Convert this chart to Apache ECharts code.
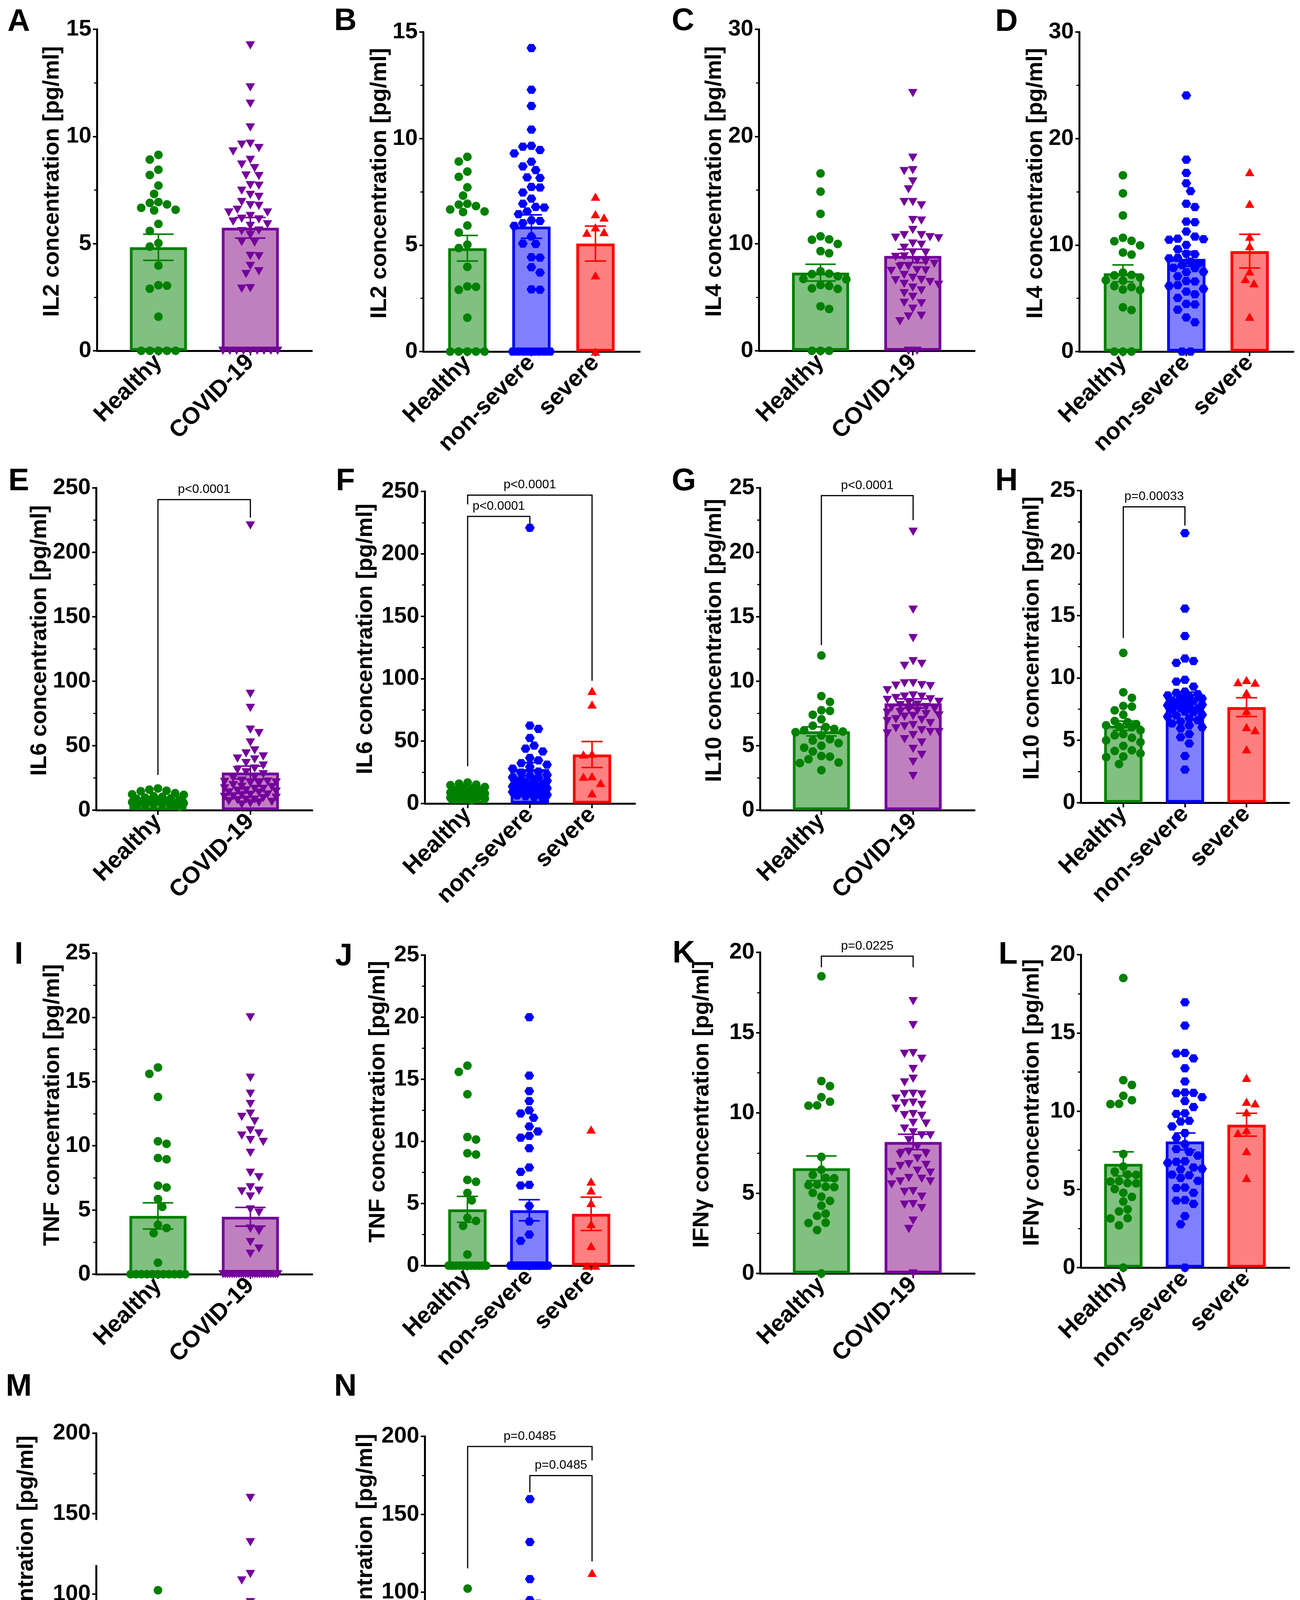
<!DOCTYPE html>
<html>
<head>
<meta charset="utf-8">
<title>Cytokine concentrations</title>
<script src="https://cdn.jsdelivr.net/npm/echarts@6/dist/echarts.min.js"></script>
<style>
  html, body {margin: 0; padding: 0; background: #fff;}
  #chart {width: 3327px; height: 4755px;}
</style>
</head>
<body>
<div id="chart"></div>
<script>
// categories
const twoCats = ['Healthy', 'COVID-19'];
const threeCats = ['Healthy', 'non-severe', 'severe'];

// values, per cytokine and group
const il2Healthy = [9.14, 8.92, 8.45, 8.2, 7.71, 7.32, 6.94, 6.9, 6.83, 6.67, 6.58, 6.55, 5.92, 5.59, 5.02, 4.86, 3.98, 3.06, 3.04, 2.9, 1.59, 0, 0, 0, 0, 0];
const il2NonSevere = [14.25, 12.29, 11.53, 10.42, 9.66, 9.62, 9.46, 9.3, 8.91, 8.69, 8.52, 8.18, 8.15, 7.73, 7.7, 7.47, 7.18, 6.94, 6.79, 6.76, 6.58, 6.45, 6.16, 6.13, 6.03, 5.9, 5.4, 5.07, 5.05, 4.43, 4.41, 3.96, 3.71, 2.92, 2.9, 0, 0, 0, 0, 0, 0, 0, 0];
const il2Severe = [7.27, 6.45, 6.29, 5.83, 5.61, 5.58, 3.58, 0];

const il4Healthy = [16.55, 14.85, 12.78, 10.68, 10.4, 10.36, 9.97, 9.3, 9.1, 7.42, 7.2, 7.16, 6.95, 6.7, 6.66, 6.14, 6.05, 5.82, 5.78, 4.15, 3.9, 0, 0, 0];
const il4NonSevere = [24.05, 18.02, 16.77, 15.8, 15.06, 13.88, 13.57, 12.2, 12.15, 11.27, 10.79, 10.6, 10.55, 10.5, 10.01, 9.61, 9.18, 9.14, 8.8, 8.76, 8.44, 8.3, 8.12, 7.86, 7.83, 7.49, 7.45, 7.07, 6.62, 6.58, 6.24, 6.16, 5.9, 5.63, 5.37, 5.03, 4.47, 4.43, 3.93, 3.2, 2.75, 0, 0];
const il4Severe = [16.85, 13.88, 10.79, 9.9, 7.52, 6.81, 6.42, 3.27];

const il6Healthy = [16.8, 15.9, 15.1, 14.7, 13.2, 12.3, 11.9, 10.8, 10.3, 9.7, 9.2, 8.8, 8.1, 7.9, 7.3, 6.6, 6.4, 6.2, 5.6, 5.4, 4.7, 4.5, 3.8, 3.7, 3.2, 2.6];
const il6NonSevere = [220.8, 62.4, 59.8, 52.5, 46.4, 44.0, 41.7, 36.5, 34.6, 32.3, 31.1, 29.4, 27.9, 25.6, 24.8, 22.9, 22.1, 21.0, 20.6, 19.4, 18.2, 17.9, 16.9, 16.5, 15.3, 15.0, 14.4, 13.7, 13.5, 12.2, 12.0, 11.6, 10.7, 10.2, 9.6, 9.3, 8.1, 7.7, 7.0, 6.4, 5.9, 5.3, 4.4];
const il6Severe = [90.2, 79.3, 40.0, 39.3, 21.9, 21.5, 16.5, 8.2];

const il10Healthy = [12.0, 8.85, 8.4, 7.75, 7.7, 7.4, 7.05, 6.55, 6.45, 6.3, 6.2, 6.1, 6.05, 5.8, 5.5, 5.4, 5.2, 5.0, 4.85, 4.55, 4.2, 4.15, 3.95, 3.7, 3.65, 3.1];
const il10NonSevere = [21.6, 15.55, 13.35, 11.55, 11.35, 11.2, 9.85, 9.7, 9.3, 8.9, 8.8, 8.7, 8.6, 8.55, 8.4, 8.35, 8.2, 8.15, 8.0, 7.95, 7.85, 7.8, 7.7, 7.6, 7.55, 7.45, 7.3, 7.25, 7.05, 7.0, 6.9, 6.75, 6.6, 6.5, 6.35, 6.2, 6.05, 5.95, 5.5, 5.25, 4.75, 3.75, 2.65];
const il10Severe = [9.83, 9.66, 9.62, 8.81, 7.35, 6.06, 5.82, 4.29];

const tnfHealthy = [16.1, 15.6, 13.8, 10.35, 10.15, 9.05, 8.95, 6.9, 6.75, 5.85, 5.25, 3.85, 3.6, 3.2, 0.9, 0, 0, 0, 0, 0, 0, 0, 0, 0, 0, 0];
const tnfNonSevere = [20.0, 15.3, 14.05, 13.25, 12.5, 12.25, 11.9, 11.2, 10.8, 10.45, 10.3, 9.45, 7.9, 7.55, 6.5, 6.45, 4.8, 3.55, 2.5, 2.0, 0, 0, 0, 0, 0, 0, 0, 0, 0, 0, 0, 0, 0, 0, 0, 0, 0, 0, 0, 0, 0, 0, 0];
const tnfSevere = [10.96, 6.77, 6.05, 5.04, 3.35, 1.59, 0, 0];

const ifnHealthy = [18.51, 11.98, 11.67, 10.98, 10.7, 10.47, 10.45, 7.26, 6.46, 6.14, 5.95, 5.93, 5.53, 5.5, 5.4, 5.38, 5.02, 4.78, 4.52, 4.22, 3.72, 3.59, 3.16, 3.14, 2.7, 0];
const ifnNonSevere = [16.96, 15.47, 13.72, 13.68, 13.37, 12.74, 11.9, 11.19, 11.17, 11.15, 10.89, 10.64, 10.26, 9.86, 9.82, 9.38, 9.34, 9.02, 8.6, 8.3, 7.89, 7.58, 7.4, 7.16, 6.8, 6.76, 6.69, 6.4, 6.32, 6.28, 5.94, 5.9, 5.73, 5.54, 5.12, 5.08, 4.78, 4.32, 4.28, 4.07, 3.29, 2.77, 0];
const ifnSevere = [12.13, 10.6, 10.5, 9.93, 8.79, 8.6, 7.45, 5.73];

const il17Healthy = [102.3, 82.6, 77.5, 71.2, 67.8, 60.4, 60.3, 54.9, 46.1, 42.7, 40.6, 38.9, 35.8, 33.5, 33.2, 30.4, 29.3, 28.8, 28.1, 26.5, 16.7, 0, 0, 0, 0, 0];
const il17NonSevere = [159.7, 132.2, 108.4, 94.9, 92.6, 92.4, 89.4, 72.5, 62.4, 62.2, 56.9, 56.7, 44.8, 44.6, 44.4, 42.7, 42.5, 41.1, 37.5, 33.1, 32.9, 31.4, 28.9, 21.8, 21.7, 21.5, 21.4, 20.3, 20.1, 17.5, 13.0, 9.4, 0, 0, 0, 0, 0, 0, 0, 0, 0, 0, 0];
const il17Severe = [112.4, 88.8, 69.0, 60.0, 56.8, 54.8, 52.7, 25.3];

// bar heights (mean) and error bars (SEM), per panel
const meansA = [4.83, 5.74], semsA = [0.61, 0.48];
const meansB = [4.85, 5.87, 5.07], semsB = [0.60, 0.55, 0.82];
const meansC = [7.29, 8.85], semsC = [0.78, 0.63];
const meansD = [7.34, 8.70, 9.43], semsD = [0.79, 0.70, 1.58];
const meansE = [8.7, 29.2], semsE = [0.8, 5.0];
const meansF = [8.7, 27.5, 39.3], semsF = [0.8, 5.3, 10.4];
const meansG = [6.11, 8.28], semsG = [0.35, 0.36];
const meansH = [6.17, 8.41, 7.66], semsH = [0.37, 0.45, 0.75];
const meansI = [4.54, 4.47], semsI = [1.02, 0.73];
const meansJ = [4.53, 4.46, 4.17], semsJ = [1.04, 0.85, 1.34];
const meansK = [6.55, 8.19], semsK = [0.77, 0.48];
const meansL = [6.63, 8.06, 9.13], semsL = [0.77, 0.54, 0.73];
const meansM = [38.5, 42.1], semsM = [5.4, 5.3];
const meansN = [39.1, 38.5, 63.5], semsN = [5.4, 5.3, 9.4];

// significance brackets: [from group, to group, bar level, left leg end, right leg end]
const bracketsE = [[0, 1, 240.9, 27.3, 227]], pLabelsE = ['p<0.0001'];
const bracketsF = [[0, 2, 247, 239.6, 98.3], [0, 1, 230, 29.9, 223]], pLabelsF = ['p<0.0001', 'p<0.0001'];
const bracketsG = [[0, 1, 24.4, 12.8, 22.5]], pLabelsG = ['p<0.0001'];
const bracketsH = [[0, 1, 23.7, 13.2, 22.2]], pLabelsH = ['p=0.00033'];
const bracketsK = [[0, 1, 19.76, 19.07, 19.07]], pLabelsK = ['p=0.0225'];
const bracketsN = [[0, 2, 193.5, 115.3, 184.6], [1, 2, 174.8, 164.1, 119.8]], pLabelsN = ['p=0.0485', 'p=0.0485'];

const FONT = "'Liberation Sans', Arial, Helvetica, sans-serif";
const HEX = 'path://M0,5L2.6,0L7.4,0L10,5L7.4,10L2.6,10Z';
const STYLES = {
    healthy:   {dark: '#008000', fill: '#80c080', symbol: 'circle',   size: 22,       rotate: 0},
    covid:     {dark: '#73009a', fill: '#c080c0', symbol: 'triangle', size: [24, 21], rotate: 180},
    nonSevere: {dark: '#0000ff', fill: '#8080ff', symbol: HEX,        size: [25, 21], rotate: 0},
    severe:    {dark: '#ff0000', fill: '#ff8080', symbol: 'triangle', size: [24, 21], rotate: 0}
};
const TWO = ['healthy', 'covid'];
const THREE = ['healthy', 'nonSevere', 'severe'];

const panels = [
    {letter: 'A', at: [48, 57],    box: [248, 75, 798, 898],     name: 'IL2',   max: 15,  step: 5,  gap: 85,  groups: [il2Healthy, il2NonSevere.concat(il2Severe)], means: meansA, sems: semsA},
    {letter: 'B', at: [884, 55],   box: [1083, 82, 1637, 900],   name: 'IL2',   max: 15,  step: 5,  gap: 77,  groups: [il2Healthy, il2NonSevere, il2Severe], means: meansB, sems: semsB},
    {letter: 'C', at: [1748, 55],  box: [1942, 75, 2494, 898],   name: 'IL4',   max: 30,  step: 10, gap: 84,  groups: [il4Healthy, il4NonSevere.concat(il4Severe)], means: meansC, sems: semsC},
    {letter: 'D', at: [2576, 57],  box: [2762, 82, 3310, 900],   name: 'IL4',   max: 30,  step: 10, gap: 80,  groups: [il4Healthy, il4NonSevere, il4Severe], means: meansD, sems: semsD},
    {letter: 'E', at: [48, 1233],  box: [246, 1249, 799, 2074],  name: 'IL6',   max: 250, step: 50, gap: 112, groups: [il6Healthy, il6NonSevere.concat(il6Severe)], means: meansE, sems: semsE, brackets: bracketsE, pLabels: pLabelsE},
    {letter: 'F', at: [884, 1233], box: [1087, 1258, 1625, 2057], name: 'IL6',  max: 250, step: 50, gap: 122, groups: [il6Healthy, il6NonSevere, il6Severe], means: meansF, sems: semsF, brackets: bracketsF, pLabels: pLabelsF},
    {letter: 'G', at: [1750, 1233], box: [1945, 1249, 2494, 2074], name: 'IL10', max: 25, step: 5,  gap: 87,  groups: [il10Healthy, il10NonSevere.concat(il10Severe)], means: meansG, sems: semsG, brackets: bracketsG, pLabels: pLabelsG},
    {letter: 'H', at: [2576, 1233], box: [2766, 1256, 3299, 2055], name: 'IL10', max: 25, step: 5,  gap: 95,  groups: [il10Healthy, il10NonSevere, il10Severe], means: meansH, sems: semsH, brackets: bracketsH, pLabels: pLabelsH},
    {letter: 'I', at: [48, 2445],  box: [246, 2440, 799, 3262],  name: 'TNF',   max: 25,  step: 5,  gap: 80,  groups: [tnfHealthy, tnfNonSevere.concat(tnfSevere)], means: meansI, sems: semsI},
    {letter: 'J', at: [880, 2449], box: [1087, 2445, 1622, 3240], name: 'TNF',  max: 25,  step: 5,  gap: 90,  groups: [tnfHealthy, tnfNonSevere, tnfSevere], means: meansJ, sems: semsJ},
    {letter: 'K', at: [1750, 2442], box: [1945, 2438, 2494, 3260], name: 'IFNγ', max: 20, step: 5,  gap: 119, groups: [ifnHealthy, ifnNonSevere.concat(ifnSevere)], means: meansK, sems: semsK, brackets: bracketsK, pLabels: pLabelsK},
    {letter: 'L', at: [2580, 2445], box: [2766, 2444, 3299, 3245], name: 'IFNγ', max: 20, step: 5,  gap: 95,  groups: [ifnHealthy, ifnNonSevere, ifnSevere], means: meansL, sems: semsL},
    {letter: 'M', at: [48, 3551],  box: [246, 3669, 799, 4492],  name: 'IL17A', max: 200, step: 50, gap: 149, groups: [il17Healthy, il17NonSevere.concat(il17Severe)], means: meansM, sems: semsM, axisGap: [118, 146]},
    {letter: 'N', at: [884, 3551], box: [1087, 3677, 1625, 4475], name: 'IL17A', max: 200, step: 50, gap: 122, groups: [il17Healthy, il17NonSevere, il17Severe], means: meansN, sems: semsN, brackets: bracketsN, pLabels: pLabelsN}
];

// beeswarm: horizontal pixel offsets so the markers do not pile up
function swarm(values, pxY, d, limit) {
    const out = new Array(values.length);
    const placed = [];
    const zeros = [];
    values.forEach((v, i) => { if (v === 0) zeros.push(i); });
    if (zeros.length) {
        const sp = zeros.length > 1 ? Math.min(d, 2 * limit / (zeros.length - 1)) : 0;
        zeros.forEach((i, k) => {
            const dx = (k - (zeros.length - 1) / 2) * sp;
            out[i] = dx;
            placed.push([dx, 0]);
        });
    }
    const rest = values.map((v, i) => i).filter(i => values[i] !== 0).sort((a, b) => values[b] - values[a]);
    let flip = 1;
    rest.forEach(i => {
        const y = values[i] * pxY;
        let best = 0, bestDist = -1, done = false;
        const st = d / 2;
        for (let k = 0; k * st <= limit && !done; k++) {
            const cands = k === 0 ? [0] : [flip * k * st, -flip * k * st];
            for (const c of cands) {
                let minD = Infinity;
                for (const p of placed) {
                    const dd = Math.hypot(p[0] - c, p[1] - y);
                    if (dd < minD) minD = dd;
                }
                if (minD >= d) { best = c; done = true; break; }
                if (minD > bestDist) { bestDist = minD; best = c; }
            }
        }
        flip = -flip;
        out[i] = best;
        placed.push([best, y]);
    });
    return out;
}

const grids = [], xAxes = [], yAxes = [], series = [], graphics = [];

panels.forEach((p, gi) => {
    const n = p.groups.length;
    const kinds = n === 2 ? TWO : THREE;
    const cats = n === 2 ? twoCats : threeCats;
    const margin = n === 2 ? 0.669 : 0.69;
    const xMin = -margin, xMax = n - 1 + margin;
    const [L, T, R, B] = p.box;
    const W = R - L, H = B - T;
    const barW = n === 2 ? 146 : 98;
    const cap = n === 2 ? 39 : 27;
    const limit = n === 2 ? 70 : 48;
    const pxX = W / (xMax - xMin);
    const pxY = H / p.max;
    const ticks = cats.map((c, i) => i);

    grids.push({left: L, top: T, width: W, height: H});

    xAxes.push({
        type: 'value', gridIndex: gi, min: xMin, max: xMax,
        axisLine: {show: true, onZero: false, lineStyle: {color: '#000', width: 5}},
        axisTick: {show: true, customValues: ticks, length: 12, lineStyle: {color: '#000', width: 4}},
        axisLabel: {
            show: true, customValues: ticks, rotate: 45, margin: 20,
            formatter: v => cats[Math.round(v)],
            fontFamily: FONT, fontSize: 60, fontWeight: 'bold', color: '#000'
        },
        splitLine: {show: false}
    });

    yAxes.push({
        type: 'value', gridIndex: gi, min: 0, max: p.max, interval: p.step,
        name: p.name + ' concentration [pg/ml]', nameLocation: 'middle', nameGap: p.gap,
        nameTextStyle: {fontFamily: FONT, fontSize: 58, fontWeight: 'bold', color: '#000', padding: [0, 0, 0, 44]},
        axisLine: {show: true, onZero: false, lineStyle: {color: '#000', width: 5}},
        axisTick: {show: true, length: 10, lineStyle: {color: '#000', width: 4}},
        minorTick: {show: true, splitNumber: 2, length: 7, lineStyle: {color: '#000', width: 3}},
        axisLabel: {fontFamily: FONT, fontSize: 58, fontWeight: 'bold', color: '#000', margin: 14},
        splitLine: {show: false}
    });

    // bars
    series.push({
        type: 'bar', xAxisIndex: gi, yAxisIndex: gi, barWidth: barW, silent: true, z: 2,
        data: p.means.map((m, i) => ({
            value: [i, m],
            itemStyle: {color: STYLES[kinds[i]].fill, borderColor: STYLES[kinds[i]].dark, borderWidth: 7}
        }))
    });

    // individual values
    p.groups.forEach((vals, i) => {
        const s = STYLES[kinds[i]];
        const offs = swarm(vals, pxY, 22, limit);
        series.push({
            type: 'scatter', xAxisIndex: gi, yAxisIndex: gi, silent: true, z: 4,
            symbol: s.symbol, symbolSize: s.size, symbolRotate: s.rotate,
            itemStyle: {color: s.dark, opacity: 1},
            data: vals.map((v, k) => [i + offs[k] / pxX, v])
        });
    });

    // mean +/- SEM
    series.push({
        type: 'custom', xAxisIndex: gi, yAxisIndex: gi, silent: true, z: 5, clip: false,
        data: p.means.map((m, i) => [i, m, p.sems[i]]),
        renderItem: (params, api) => {
            const x = api.value(0), m = api.value(1), s = api.value(2);
            const top = api.coord([x, m + s]);
            const bot = api.coord([x, m - s]);
            const st = {stroke: STYLES[kinds[params.dataIndex]].dark, lineWidth: 4};
            return {
                type: 'group', children: [
                    {type: 'line', shape: {x1: top[0], y1: top[1], x2: bot[0], y2: bot[1]}, style: st},
                    {type: 'line', shape: {x1: top[0] - cap, y1: top[1], x2: top[0] + cap, y2: top[1]}, style: st},
                    {type: 'line', shape: {x1: bot[0] - cap, y1: bot[1], x2: bot[0] + cap, y2: bot[1]}, style: st}
                ]
            };
        }
    });

    // p-value brackets
    if (p.brackets) {
        series.push({
            type: 'custom', xAxisIndex: gi, yAxisIndex: gi, silent: true, z: 6, clip: false,
            data: p.brackets,
            renderItem: (params, api) => {
                const a = api.coord([api.value(0), api.value(3)]);
                const b = api.coord([api.value(0), api.value(2)]);
                const c = api.coord([api.value(1), api.value(2)]);
                const d = api.coord([api.value(1), api.value(4)]);
                return {
                    type: 'group', children: [
                        {type: 'polyline', shape: {points: [a, b, c, d]}, style: {stroke: '#000', lineWidth: 3, fill: null}},
                        {type: 'text', style: {
                            text: p.pLabels[params.dataIndex], x: (b[0] + c[0]) / 2, y: b[1] - 26,
                            align: 'center', verticalAlign: 'middle',
                            font: '32px ' + FONT, fill: '#000'
                        }}
                    ]
                };
            }
        });
    }

    graphics.push({
        type: 'text', id: 'letter' + p.letter, x: p.at[0], y: p.at[1], z: 10,
        style: {text: p.letter, font: 'bold 80px ' + FONT, fill: '#000', align: 'center', verticalAlign: 'middle'}
    });
});

const chart = echarts.init(document.getElementById('chart'), null, {renderer: 'canvas'});
chart.setOption({
    backgroundColor: '#fff',
    animation: false,
    grid: grids,
    xAxis: xAxes,
    yAxis: yAxes,
    series: series,
    graphic: graphics
});

// panel M: the y axis line is interrupted between ~118 and ~146
panels.forEach((p, gi) => {
    if (!p.axisGap) return;
    const lo = chart.convertToPixel({gridIndex: gi}, [0, p.axisGap[0]]);
    const hi = chart.convertToPixel({gridIndex: gi}, [0, p.axisGap[1]]);
    graphics.push({
        type: 'rect', id: 'gap' + p.letter, z: 10,
        shape: {x: p.box[0] - 12, y: hi[1], width: 16, height: lo[1] - hi[1]},
        style: {fill: '#fff'}
    });
});
chart.setOption({graphic: graphics});
</script>
</body>
</html>
